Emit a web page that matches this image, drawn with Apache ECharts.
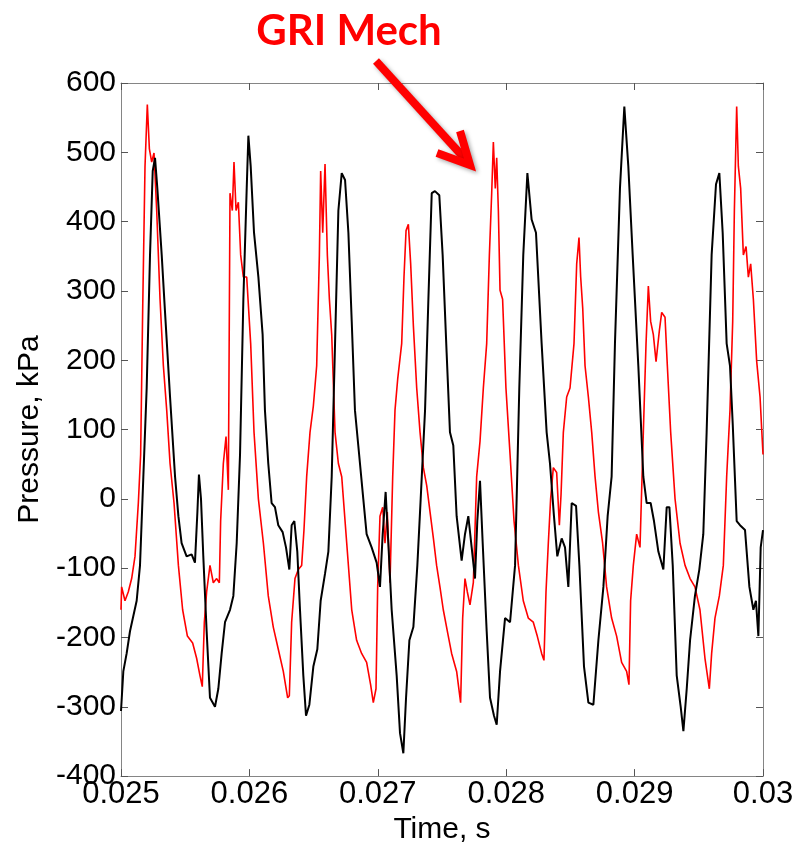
<!DOCTYPE html>
<html>
<head>
<meta charset="utf-8">
<script src="https://cdn.jsdelivr.net/npm/echarts@6/dist/echarts.min.js"></script>
<style>
html,body{margin:0;padding:0;background:#fff;}
#chart{width:807px;height:850px;}
</style>
</head>
<body>
<div id="chart"></div>
<script>
// ---- data (time in s, pressure in kPa) ----
var blackT = [0.025000,0.025018,0.025044,0.025070,0.025096,0.025122,0.025148,0.025174,0.025200,0.025226,0.025247,0.025265,0.025283,0.025317,0.025343,0.025382,0.025421,0.025447,0.025472,0.025511,0.025550,0.025576,0.025595,0.025607,0.025623,0.025641,0.025667,0.025693,0.025732,0.025758,0.025784,0.025810,0.025849,0.025875,0.025901,0.025927,0.025953,0.025979,0.025992,0.026010,0.026036,0.026070,0.026103,0.026121,0.026147,0.026173,0.026199,0.026225,0.026259,0.026285,0.026311,0.026329,0.026350,0.026373,0.026394,0.026420,0.026441,0.026467,0.026498,0.026529,0.026555,0.026589,0.026615,0.026641,0.026667,0.026693,0.026719,0.026745,0.026771,0.026797,0.026822,0.026848,0.026887,0.026913,0.026952,0.026991,0.027017,0.027038,0.027061,0.027082,0.027108,0.027147,0.027173,0.027199,0.027220,0.027246,0.027277,0.027308,0.027334,0.027368,0.027394,0.027420,0.027445,0.027479,0.027505,0.027536,0.027562,0.027588,0.027614,0.027653,0.027679,0.027705,0.027731,0.027757,0.027775,0.027796,0.027817,0.027848,0.027874,0.027905,0.027926,0.027952,0.027991,0.028030,0.028069,0.028102,0.028133,0.028165,0.028198,0.028232,0.028276,0.028315,0.028341,0.028372,0.028398,0.028432,0.028458,0.028484,0.028510,0.028544,0.028570,0.028606,0.028640,0.028679,0.028718,0.028757,0.028790,0.028821,0.028847,0.028886,0.028920,0.028951,0.028985,0.029029,0.029068,0.029094,0.029125,0.029151,0.029185,0.029224,0.029250,0.029271,0.029297,0.029328,0.029359,0.029380,0.029406,0.029432,0.029470,0.029504,0.029535,0.029561,0.029600,0.029634,0.029660,0.029686,0.029717,0.029743,0.029764,0.029795,0.029821,0.029860,0.029894,0.029925,0.029945,0.029964,0.029982,0.030000];
var blackP = [-306,-249,-223,-191,-169,-147,-96,32,160,352,473,492,448,352,269,147,32,-25,-64,-83,-80,-92,-19,35,0,-83,-191,-287,-300,-274,-223,-178,-160,-140,-64,64,288,448,524,480,384,320,237,128,51,-6,-12,-38,-48,-70,-102,-38,-32,-76,-160,-255,-313,-297,-242,-217,-147,-108,-76,32,224,416,470,460,384,256,128,77,0,-51,-70,-92,-127,-51,10,-64,-160,-255,-338,-367,-287,-204,-185,-96,0,128,288,441,444,438,352,211,96,77,-25,-89,-51,-25,-70,-115,-32,26,-64,-191,-287,-313,-326,-249,-172,-178,-96,160,352,470,403,384,224,96,51,-25,-83,-57,-70,-127,-6,-10,-96,-242,-294,-297,-204,-127,-25,32,224,448,566,480,352,192,32,-6,-6,-32,-76,-102,-12,-12,-96,-255,-300,-335,-274,-204,-140,-102,-51,96,352,454,470,384,224,192,109,-32,-38,-45,-127,-160,-147,-198,-70,-45];

var redT = [0.025000,0.025005,0.025031,0.025057,0.025083,0.025109,0.025135,0.025153,0.025169,0.025187,0.025205,0.025221,0.025239,0.025257,0.025278,0.025304,0.025330,0.025356,0.025382,0.025413,0.025447,0.025480,0.025517,0.025558,0.025589,0.025615,0.025633,0.025649,0.025667,0.025693,0.025719,0.025745,0.025766,0.025776,0.025797,0.025818,0.025836,0.025849,0.025867,0.025880,0.025896,0.025914,0.025932,0.025953,0.025979,0.026010,0.026036,0.026070,0.026109,0.026147,0.026186,0.026225,0.026264,0.026298,0.026311,0.026329,0.026355,0.026381,0.026407,0.026425,0.026446,0.026472,0.026498,0.026524,0.026545,0.026555,0.026571,0.026589,0.026607,0.026623,0.026641,0.026667,0.026693,0.026719,0.026758,0.026797,0.026835,0.026874,0.026913,0.026944,0.026965,0.026986,0.026999,0.027017,0.027038,0.027056,0.027074,0.027095,0.027116,0.027134,0.027155,0.027186,0.027204,0.027220,0.027238,0.027256,0.027277,0.027303,0.027329,0.027355,0.027381,0.027407,0.027433,0.027458,0.027484,0.027510,0.027549,0.027575,0.027614,0.027645,0.027661,0.027679,0.027697,0.027718,0.027744,0.027770,0.027796,0.027822,0.027848,0.027869,0.027887,0.027900,0.027915,0.027926,0.027939,0.027952,0.027972,0.027998,0.028030,0.028061,0.028095,0.028133,0.028172,0.028211,0.028242,0.028276,0.028294,0.028310,0.028328,0.028346,0.028367,0.028393,0.028414,0.028427,0.028445,0.028471,0.028497,0.028528,0.028549,0.028567,0.028580,0.028596,0.028614,0.028640,0.028666,0.028692,0.028718,0.028751,0.028782,0.028821,0.028860,0.028899,0.028938,0.028956,0.028969,0.028990,0.029016,0.029042,0.029068,0.029089,0.029107,0.029125,0.029146,0.029167,0.029193,0.029211,0.029237,0.029255,0.029281,0.029315,0.029354,0.029393,0.029432,0.029470,0.029509,0.029548,0.029582,0.029600,0.029626,0.029660,0.029691,0.029717,0.029743,0.029764,0.029777,0.029795,0.029808,0.029826,0.029847,0.029868,0.029886,0.029904,0.029925,0.029951,0.029977,0.030000];
var redP = [-160,-127,-147,-134,-115,-83,-6,64,275,480,569,505,486,499,416,288,192,128,51,-6,-96,-160,-198,-208,-230,-255,-271,-178,-134,-96,-121,-115,-121,-32,51,90,13,441,416,486,416,428,352,320,320,224,96,0,-64,-140,-185,-217,-249,-287,-284,-178,-115,-102,-96,-45,32,96,134,192,352,473,384,483,352,288,237,96,51,32,-64,-160,-204,-223,-236,-268,-294,-274,-127,-25,-12,-64,-19,-121,32,128,173,224,320,387,396,339,250,160,96,45,19,-19,-57,-96,-127,-160,-198,-223,-249,-294,-172,-115,-134,-153,-121,32,83,160,224,352,441,515,448,492,416,301,288,160,64,-32,-96,-147,-172,-178,-198,-223,-233,-134,-64,0,45,38,-38,6,96,147,160,224,339,377,320,275,192,147,96,32,-19,-64,-127,-172,-198,-236,-249,-268,-147,-96,-51,-70,96,224,307,256,237,198,243,269,262,192,96,0,-64,-96,-115,-127,-160,-230,-274,-223,-172,-140,-96,32,128,256,416,566,480,448,352,364,320,339,288,198,147,64];

var xTickLabels = ['0.025','0.026','0.027','0.028','0.029','0.03'];
var yTickLabels = ['-400','-300','-200','-100','0','100','200','300','400','500','600'];
var xName = 'Time, s';
var yName = 'Pressure, kPa';
var noteText = 'GRI Mech';

function zip(a, b) { return a.map(function (v, i) { return [v, b[i]]; }); }

var chart = echarts.init(document.getElementById('chart'), null, {renderer: 'canvas'});
var axisGray = '#858585';
var baseX = {
  type: 'value', min: 0.025, max: 0.03, interval: 0.001,
  axisLine: {show: true, onZero: false, lineStyle: {color: axisGray, width: 1}},
  axisTick: {show: true, inside: true, length: 7, lineStyle: {color: '#555', width: 1}},
  splitLine: {show: false}
};
var baseY = {
  type: 'value', min: -400, max: 600, interval: 100,
  axisLine: {show: true, onZero: false, lineStyle: {color: axisGray, width: 1}},
  axisTick: {show: true, inside: true, length: 7, lineStyle: {color: '#555', width: 1}},
  splitLine: {show: false}
};

var option = {
  animation: false,
  backgroundColor: '#fff',
  grid: {left: 121, right: 44, top: 83, bottom: 67, containLabel: false},
  xAxis: [
    Object.assign({}, baseX, {
      position: 'bottom',
      name: xName, nameLocation: 'middle', nameGap: 36,
      nameTextStyle: {fontFamily: 'Liberation Sans', fontSize: 30, color: '#000'},
      axisLabel: {
        margin: 3, fontFamily: 'Liberation Sans', fontSize: 31, color: '#000',
        formatter: function (v) { return xTickLabels[Math.round((v - 0.025) / 0.001)]; }
      }
    }),
    Object.assign({}, baseX, {position: 'top', axisLabel: {show: false}})
  ],
  yAxis: [
    Object.assign({}, baseY, {
      position: 'left',
      name: yName, nameLocation: 'middle', nameGap: 76, nameRotate: 90,
      nameTextStyle: {fontFamily: 'Liberation Sans', fontSize: 30, color: '#000'},
      axisLabel: {
        margin: 5, fontFamily: 'Liberation Sans', fontSize: 30, color: '#000',
        formatter: function (v) { return yTickLabels[Math.round((v + 400) / 100)]; }
      }
    }),
    Object.assign({}, baseY, {position: 'right', axisLabel: {show: false}})
  ],
  series: [
    {
      type: 'line', xAxisIndex: 0, yAxisIndex: 0, data: zip(redT, redP),
      showSymbol: false, symbol: 'none', smooth: false,
      lineStyle: {color: '#ff0000', width: 1.6}, z: 2
    },
    {
      type: 'line', xAxisIndex: 0, yAxisIndex: 0, data: zip(blackT, blackP),
      showSymbol: false, symbol: 'none', smooth: false,
      lineStyle: {color: '#000000', width: 2}, z: 3
    }
  ],
  graphic: [
    {
      type: 'text', z: 10,
      style: {
        text: noteText, x: 349, y: 31, align: 'center', verticalAlign: 'middle',
        fontFamily: 'Lato', fontWeight: 'bold', fontSize: 42, fill: '#ff0000'
      }
    },
    {
      type: 'line', z: 10,
      shape: {x1: 376, y1: 61, x2: 466, y2: 160},
      style: {stroke: '#ff0000', lineWidth: 8, shadowBlur: 4, shadowColor: 'rgba(0,0,0,0.35)', shadowOffsetX: 2, shadowOffsetY: 2}
    },
    {
      type: 'polyline', z: 10,
      shape: {points: [[460, 131], [470, 165], [437, 153]]},
      style: {stroke: '#ff0000', fill: null, lineWidth: 8, lineJoin: 'miter', shadowBlur: 4, shadowColor: 'rgba(0,0,0,0.35)', shadowOffsetX: 2, shadowOffsetY: 2}
    }
  ]
};
chart.setOption(option);
</script>
</body>
</html>
